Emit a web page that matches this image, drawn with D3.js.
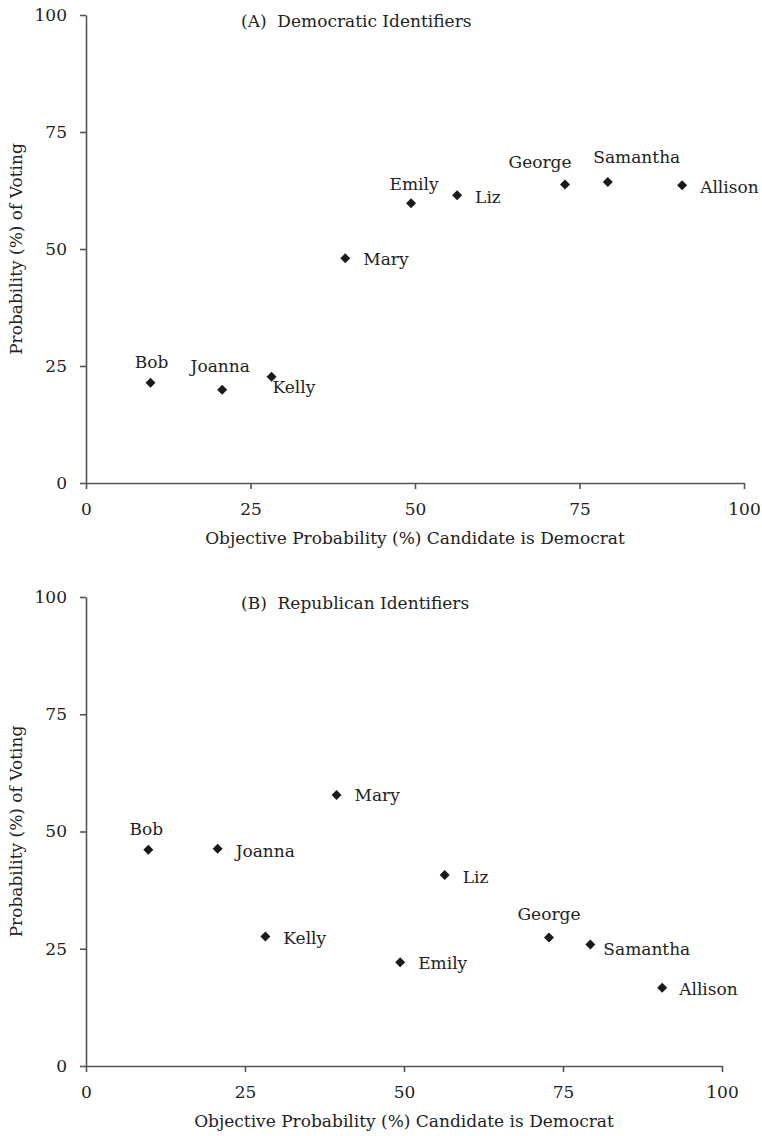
<!DOCTYPE html>
<html>
<head>
<meta charset="utf-8">
<script src="https://d3js.org/d3.v7.min.js"></script>
<style>
body { margin: 0; background: #fff; }
svg { display: block; font-family: "DejaVu Serif", serif; }
.axis path, .axis line { stroke: #555; stroke-width: 1.6; }
.axis text { fill: #222; font-size: 17px; font-family: "DejaVu Serif", serif; }
text.lab { fill: #222; font-size: 17px; }
</style>
</head>
<body>
<div id="chart"></div>
<script>
// candidates and values
var names = ["Bob", "Joanna", "Kelly", "Mary", "Emily", "Liz", "George", "Samantha", "Allison"];
var objective = [9.8, 20.7, 28.2, 39.4, 49.4, 56.4, 72.8, 79.3, 90.6];
var demVote = [21.4, 19.9, 22.7, 48.0, 59.8, 61.5, 63.8, 64.3, 63.6];
var repVote = [46.1, 46.3, 27.6, 57.8, 22.1, 40.7, 27.4, 25.9, 16.7];
var ticks = [0, 25, 50, 75, 100];

// where each data label sits next to its point: [dx, dy, anchor]
var placeA = [[1, -15, "middle"], [-2, -18, "middle"], [1, 16, "start"], [18, 7, "start"],
  [3, -13, "middle"], [18, 8, "start"], [-25, -16, "middle"], [29, -19, "middle"], [18, 8, "start"]];
var placeB = [[-2, -15, "middle"], [18, 8, "start"], [18, 7, "start"], [18, 6, "start"],
  [18, 7, "start"], [18, 8, "start"], [0, -17, "middle"], [13, 10, "start"], [17, 7, "start"]];

var svg = d3.select("#chart").append("svg").attr("width", 762).attr("height", 1136);

function panel(title, votes, place, top, bottom, right) {
  var xScale = d3.scaleLinear().domain([0, 100]).range([86, right]);
  var yScale = d3.scaleLinear().domain([0, 100]).range([bottom, top]);

  svg.append("g").attr("class", "axis")
    .attr("transform", "translate(0," + bottom + ")")
    .call(d3.axisBottom(xScale).tickValues(ticks).tickSize(6).tickPadding(14).tickSizeOuter(0));

  svg.append("g").attr("class", "axis")
    .attr("transform", "translate(86,0)")
    .call(d3.axisLeft(yScale).tickValues(ticks).tickSize(6).tickPadding(13).tickSizeOuter(0));

  svg.append("text").attr("class", "lab")
    .attr("x", (86 + right) / 2 + 0).attr("y", bottom + 61)
    .attr("text-anchor", "middle")
    .text("Objective Probability (%) Candidate is Democrat");

  svg.append("text").attr("class", "lab")
    .attr("transform", "translate(22," + ((top + bottom) / 2) + ") rotate(-90)")
    .attr("text-anchor", "middle")
    .text("Probability (%) of Voting");

  svg.append("text").attr("class", "lab")
    .attr("x", 241).attr("y", top + 12)
    .attr("xml:space", "preserve")
    .text("(" + title.charAt(0) + ")  " + title.slice(2));

  var pts = names.map(function (n, i) { return { name: n, x: objective[i], y: votes[i], p: place[i] }; });

  svg.selectAll(null).data(pts).enter().append("path")
    .attr("d", d3.symbol(d3.symbolSquare, 50))
    .attr("transform", function (d) { return "translate(" + xScale(d.x) + "," + yScale(d.y) + ") rotate(45)"; })
    .attr("fill", "#1a1a1a");

  svg.selectAll(null).data(pts).enter().append("text")
    .attr("class", "lab")
    .attr("x", function (d) { return xScale(d.x) + d.p[0]; })
    .attr("y", function (d) { return yScale(d.y) + d.p[1]; })
    .attr("text-anchor", function (d) { return d.p[2]; })
    .text(function (d) { return d.name; });
}

panel("A Democratic Identifiers", demVote, placeA, 15, 483, 744);
panel("B Republican Identifiers", repVote, placeB, 597, 1066, 722);
</script>
</body>
</html>
